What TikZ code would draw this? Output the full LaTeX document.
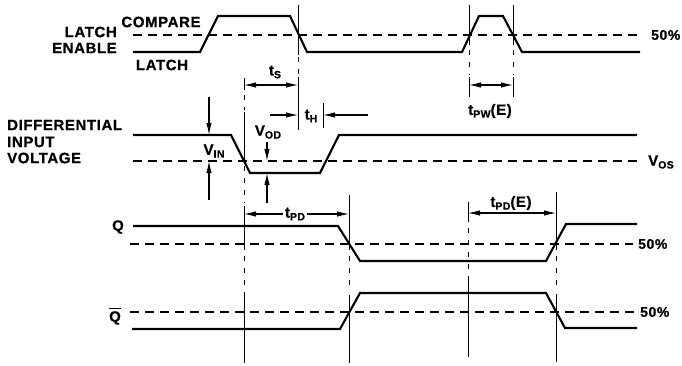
\documentclass[tikz,border=0pt]{standalone}
\usepackage{fontspec}
\setmainfont{Liberation Sans}[LetterSpace=4, BoldFeatures={FakeBold=0.6}]
\usetikzlibrary{arrows.meta}
\newcommand\sbx[1]{\raisebox{-0.35ex}{\fontsize{10.5}{11}\selectfont #1}}
\begin{document}
\begin{tikzpicture}[x=1pt,y=-1pt,
  wave/.style={line width=2.1pt, line join=miter},
  ref/.style={line width=1.9pt, dash pattern=on 9pt off 6pt},
  guide/.style={line width=0.9pt},
  gdash/.style={line width=0.9pt, dash pattern=on 5pt off 7pt},
  dim/.style={line width=1.1pt, {Latex[length=12pt,width=5.5pt]}-{Latex[length=12pt,width=5.5pt]}},
  arr/.style={line width=1.1pt, -{Latex[length=12pt,width=5.5pt]}},
  lbl/.style={font=\fontsize{15}{16}\selectfont\bfseries, inner sep=0pt},
  pct/.style={font=\fontsize{14}{15}\selectfont\bfseries, inner sep=0pt, anchor=west},
]
\useasboundingbox (0,0) rectangle (682,365);

% ---------- waveforms ----------
\draw[wave] (133,52) -- (200,52) -- (218,16) -- (290,16) -- (307,52) -- (462,52)
  -- (479,16) -- (503,16) -- (522,52) -- (640,52);
\draw[ref] (133,35) -- (642,35);

\draw[wave] (133,135) -- (231,135) -- (250,173) -- (320,173) -- (339,135) -- (637,135);
\draw[ref] (133,161) -- (640,161);

\draw[wave] (133,226) -- (338,226) -- (360,261) -- (546,261) -- (566,224) -- (637,224);
\draw[ref] (130,244) -- (633,244);

\draw[wave] (132,329) -- (340,329) -- (360,293) -- (546,293) -- (565,328) -- (637,328);
\draw[ref] (130,312) -- (635,312);

% ---------- guide lines ----------
% x = 298
\draw[guide] (298,5) -- (298,55);
\draw[gdash] (298,57) -- (298,75);
\draw[guide] (298,77) -- (298,130);
% x = 244
\draw[guide] (244,78) -- (244,90);
\draw[gdash] (244,95) -- (244,110);
\draw[guide] (244,112) -- (244,162);
\draw[gdash] (244,166) -- (244,203);
\draw[guide] (244,206) -- (244,250);
\draw[gdash] (244,256) -- (244,288);
\draw[guide] (244,292) -- (244,363);
% x = 349
\draw[guide] (349,195) -- (349,250);
\draw[gdash] (349,256) -- (349,292);
\draw[guide] (349,295) -- (349,363);
% x = 469 / 513 (upper)
\draw[guide] (469,5) -- (469,45);
\draw[gdash] (469,50) -- (469,75);
\draw[guide] (469,77) -- (469,97);
\draw[guide] (513,5) -- (513,45);
\draw[gdash] (513,50) -- (513,75);
\draw[guide] (513,77) -- (513,97);
% x = 468 (lower)
\draw[guide] (468,202) -- (468,222);
\draw[gdash] (468,228) -- (468,272);
\draw[guide] (468,276) -- (468,357);
% x = 556
\draw[guide] (556,192) -- (556,250);
\draw[gdash] (556,256) -- (556,290);
\draw[guide] (556,294) -- (556,362);
% t_H right bar
\draw[guide] (323,103) -- (323,128);

% ---------- arrows ----------
\draw[arr] (209,97) -- (209,135);
\draw[arr] (209,200) -- (209,161);
\draw[arr] (267,142) -- (267,161);
\draw[arr] (267,203) -- (267,173);
\draw[dim] (244,85) -- (298,85);
\draw[arr] (270,115) -- (298,115);
\draw[arr] (368,115) -- (323,115);
\draw[dim] (469,85) -- (513,85);
\draw[dim] (244,214) -- (349,214);
\draw[dim] (468,213) -- (556,213);

% ---------- labels ----------
\node[lbl, anchor=east] (latch) at (117,32) {LATCH};
\node[lbl, anchor=east] (enable) at (117,48) {ENABLE};
\node[lbl] (compare) at (161,22) {COMPARE};
\node[lbl] (latchlo) at (162,65) {LATCH};
\node[pct] (p1) at (651,35) {50\%};

\node[lbl, anchor=west] (diff) at (7,125) {DIFFERENTIAL};
\node[lbl, anchor=west] (input) at (7,142) {INPUT};
\node[lbl, anchor=west] (volt) at (7,158) {VOLTAGE};
\node[lbl] (vin) at (214,151) {V\sbx{IN}};
\node[lbl] (vod) at (268,132) {V\sbx{OD}};
\node[lbl] (vos) at (661,162) {V\sbx{OS}};

\node[lbl] (ts) at (275,72) {t\sbx{S}};
\node[lbl] (th) at (311,116) {t\sbx{H}};
\node[lbl] (tpw) at (490,111) {t\sbx{PW}(E)};
\node[lbl, fill=white, inner xsep=2pt] (tpd) at (295,214) {t\sbx{PD}};
\node[lbl] (tpde) at (511,203) {t\sbx{PD}(E)};

\node[lbl] (q) at (118,227) {Q};
\node[pct] (p2) at (638,244) {50\%};
\node[lbl] (qb) at (115,318) {Q};
\draw[line width=1.5pt] ([yshift=2.5pt]qb.north west) -- ([yshift=2.5pt]qb.north east);
\node[pct] (p3) at (640,312) {50\%};
\end{tikzpicture}
\end{document}
